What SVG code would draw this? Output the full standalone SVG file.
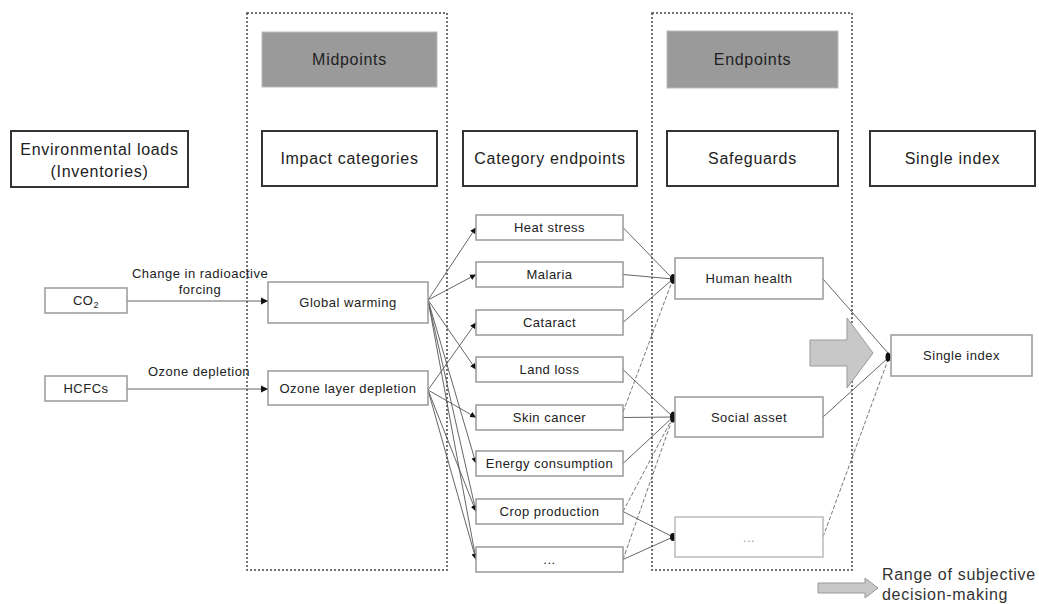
<svg xmlns="http://www.w3.org/2000/svg" width="1039" height="604" viewBox="0 0 1039 604">
<style>
.hdr{fill:#fff;stroke:#333;stroke-width:2}
.grey{fill:#9a9a9a;stroke:#bbb;stroke-width:1}
.box{fill:#fff;stroke:#999;stroke-width:1.5}
.faint{fill:#fff;stroke:#bbb;stroke-width:1.5}
.dotted{fill:none;stroke:#444;stroke-width:1.5;stroke-dasharray:2 2}
.t1{font-family:"Liberation Sans",Arial,sans-serif;font-size:16px;letter-spacing:0.7px;fill:#222;text-anchor:middle}
.t2{font-family:"Liberation Sans",Arial,sans-serif;font-size:13px;letter-spacing:0.5px;fill:#222;text-anchor:middle}
.leg{font-family:"Liberation Sans",Arial,sans-serif;font-size:16px;letter-spacing:0.7px;fill:#333}
.ln{stroke:#555;stroke-width:0.9;fill:none}
.dl{stroke:#666;stroke-width:0.9;fill:none;stroke-dasharray:4 2}
.dot{fill:#111}
.big{fill:#c8c8c8;stroke:#999;stroke-width:1}
</style>
<defs>
<marker id="ah" markerWidth="8" markerHeight="8" refX="7" refY="4" orient="auto" markerUnits="userSpaceOnUse">
<path d="M0,0.5 L7,4 L0,7.5 Z" fill="#111"/>
</marker>
<marker id="ahs" markerWidth="7" markerHeight="7" refX="6" refY="3.5" orient="auto" markerUnits="userSpaceOnUse">
<path d="M0,0.5 L6,3.5 L0,6.5 Z" fill="#111"/>
</marker>
</defs>
<rect width="1039" height="604" fill="#fff"/>

<g id="frames">
<rect class="dotted" x="247" y="13" width="200" height="557"/>
<rect class="dotted" x="652" y="13" width="200" height="557"/>
</g>

<g id="midpoints"><rect class="grey" x="262" y="32" width="175" height="55"/><text class="t1" x="349.5" y="65">Midpoints</text></g>
<g id="endpoints"><rect class="grey" x="667" y="31" width="171" height="57"/><text class="t1" x="752.5" y="65">Endpoints</text></g>

<g id="env-loads"><rect class="hdr" x="11" y="131" width="177" height="56"/><text class="t1" x="99.5" y="155">Environmental loads</text><text class="t1" x="99.5" y="177">(Inventories)</text></g>
<g id="impact-categories"><rect class="hdr" x="262" y="131" width="175" height="55"/><text class="t1" x="349.5" y="164">Impact categories</text></g>
<g id="category-endpoints"><rect class="hdr" x="463" y="131" width="174" height="55"/><text class="t1" x="550" y="164">Category endpoints</text></g>
<g id="safeguards"><rect class="hdr" x="667" y="131" width="171" height="55"/><text class="t1" x="752.5" y="164">Safeguards</text></g>
<g id="single-index-hdr"><rect class="hdr" x="870" y="131" width="165" height="55"/><text class="t1" x="952.5" y="164">Single index</text></g>

<g id="connectors">
<line class="ln" x1="127" y1="301" x2="268" y2="301" marker-end="url(#ah)"/>
<line class="ln" x1="127" y1="389" x2="268" y2="389" marker-end="url(#ah)"/>
<line class="ln" x1="428" y1="300" x2="476" y2="227.5" marker-end="url(#ahs)"/>
<line class="ln" x1="428" y1="300" x2="476" y2="274.5" marker-end="url(#ahs)"/>
<line class="ln" x1="428" y1="300" x2="476" y2="369.5" marker-end="url(#ahs)"/>
<line class="ln" x1="428" y1="300" x2="476" y2="463.5" marker-end="url(#ahs)"/>
<line class="ln" x1="428" y1="300" x2="476" y2="511.5" marker-end="url(#ahs)"/>
<line class="ln" x1="428" y1="300" x2="476" y2="559.5" marker-end="url(#ahs)"/>
<line class="ln" x1="428" y1="390" x2="476" y2="322.5" marker-end="url(#ahs)"/>
<line class="ln" x1="428" y1="390" x2="476" y2="417.5" marker-end="url(#ahs)"/>
<line class="ln" x1="428" y1="390" x2="476" y2="511.5" marker-end="url(#ahs)"/>
<line class="ln" x1="428" y1="390" x2="476" y2="559.5" marker-end="url(#ahs)"/>

<line class="ln" x1="623" y1="227.5" x2="673" y2="279"/>
<line class="ln" x1="623" y1="274.5" x2="673" y2="279"/>
<line class="ln" x1="623" y1="322.5" x2="673" y2="279"/>
<line class="dl" x1="623" y1="412" x2="673" y2="279"/>
<line class="ln" x1="623" y1="369.5" x2="673" y2="417"/>
<line class="ln" x1="623" y1="417.5" x2="673" y2="417"/>
<line class="ln" x1="623" y1="463.5" x2="673" y2="417"/>
<line class="dl" x1="623" y1="511.5" x2="673" y2="417"/>
<line class="dl" x1="623" y1="559.5" x2="673" y2="417"/>
<line class="ln" x1="623" y1="511.5" x2="673" y2="537"/>
<line class="ln" x1="623" y1="559.5" x2="673" y2="537"/>

<line class="ln" x1="823" y1="279" x2="888" y2="353"/>
<line class="ln" x1="823" y1="417" x2="888" y2="358"/>
<line class="dl" x1="823" y1="537" x2="888" y2="360"/>

<ellipse class="dot" cx="673" cy="279" rx="3" ry="5"/>
<ellipse class="dot" cx="673" cy="417" rx="3" ry="5.5"/>
<ellipse class="dot" cx="673" cy="537" rx="3" ry="4"/>
<ellipse class="dot" cx="888" cy="357" rx="2.5" ry="4.5"/>
</g>

<g id="label-forcing"><text class="t2" x="200" y="278">Change in radioactive</text><text class="t2" x="200" y="294">forcing</text></g>
<g id="label-ozone"><text class="t2" x="199" y="376">Ozone depletion</text></g>

<g id="co2"><rect class="box" x="45" y="288" width="82" height="25"/><text class="t2" x="86" y="305">CO<tspan font-size="9" dy="3">2</tspan></text></g>
<g id="hcfcs"><rect class="box" x="45" y="376" width="82" height="25"/><text class="t2" x="86" y="393">HCFCs</text></g>
<g id="global-warming"><rect class="box" x="268" y="282" width="160" height="41"/><text class="t2" x="348" y="307">Global warming</text></g>
<g id="ozone-layer"><rect class="box" x="268" y="371" width="160" height="34"/><text class="t2" x="348" y="393">Ozone layer depletion</text></g>

<g id="heat-stress"><rect class="box" x="476" y="215" width="147" height="25"/><text class="t2" x="549.5" y="232">Heat stress</text></g>
<g id="malaria"><rect class="box" x="476" y="262" width="147" height="25"/><text class="t2" x="549.5" y="279">Malaria</text></g>
<g id="cataract"><rect class="box" x="476" y="310" width="147" height="25"/><text class="t2" x="549.5" y="327">Cataract</text></g>
<g id="land-loss"><rect class="box" x="476" y="357" width="147" height="25"/><text class="t2" x="549.5" y="374">Land loss</text></g>
<g id="skin-cancer"><rect class="box" x="476" y="405" width="147" height="25"/><text class="t2" x="549.5" y="422">Skin cancer</text></g>
<g id="energy"><rect class="box" x="476" y="451" width="147" height="25"/><text class="t2" x="549.5" y="468">Energy consumption</text></g>
<g id="crop"><rect class="box" x="476" y="499" width="147" height="25"/><text class="t2" x="549.5" y="516">Crop production</text></g>
<g id="cat-more"><rect class="box" x="476" y="547" width="147" height="25"/><text class="t2" x="549.5" y="564" fill="#777">...</text></g>

<g id="human-health"><rect class="box" x="675" y="258" width="148" height="41"/><text class="t2" x="749" y="283">Human health</text></g>
<g id="social-asset"><rect class="box" x="675" y="397" width="148" height="40"/><text class="t2" x="749" y="422">Social asset</text></g>
<g id="safe-more"><rect class="faint" x="675" y="517" width="148" height="40"/><text class="t2" x="749" y="542" style="fill:#999">...</text></g>

<g id="single-index"><rect class="box" x="891" y="335" width="141" height="41"/><text class="t2" x="961.5" y="360">Single index</text></g>

<g id="big-arrow"><polygon class="big" points="810,340 847,340 847,318 873,353 847,388 847,366 810,366"/></g>

<g id="legend">
<polygon class="big" points="818,583 865,583 865,578 878,588 865,598 865,593 818,593"/>
<text class="leg" x="882" y="580">Range of subjective</text>
<text class="leg" x="882" y="600">decision-making</text>
</g>
</svg>
